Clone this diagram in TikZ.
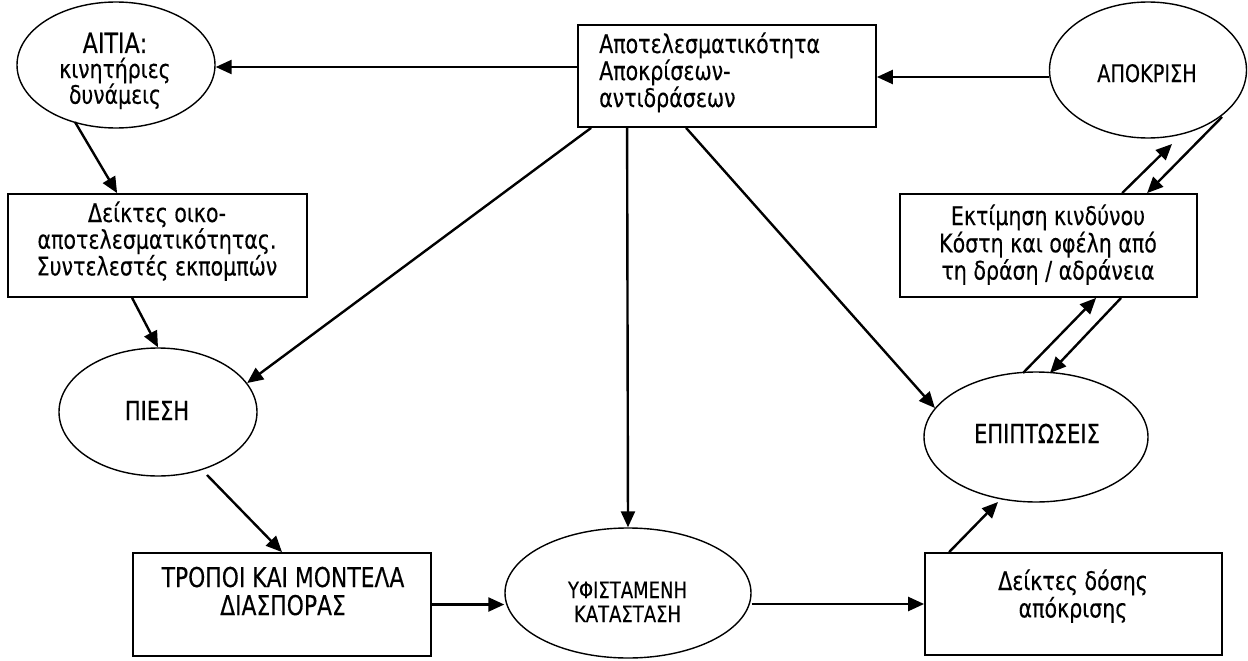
\documentclass[tikz,border=0pt]{standalone}
\usepackage{fontspec}
\setmainfont[FakeStretch=0.8,FakeBold=0.3]{DejaVu Sans}
\usetikzlibrary{arrows.meta,shapes.geometric,calc}
\newcommand{\mlines}[2]{\begin{tabular}[t]{@{}#1@{}}#2\end{tabular}}
\begin{document}
\begin{tikzpicture}[x=1pt,y=-1pt,
  boxnode/.style={draw, rectangle, line width=1.8pt, inner sep=0pt},
  ellnode/.style={draw, ellipse, line width=1.4pt, inner sep=0pt},
  txt/.style={anchor=base, inner sep=0pt},
  conn/.style={line width=2.4pt, -{Triangle[length=16pt,width=14pt]}}]
\useasboundingbox (0,0) rectangle (1248,661);

% shapes
\node[boxnode, minimum width=298pt, minimum height=102pt] (top) at (727,76) {};
\node[ellnode, minimum width=198pt, minimum height=126pt] (aitia) at (116,65) {};
\node[ellnode, minimum width=197pt, minimum height=136pt] (apok) at (1148,70) {};
\node[boxnode, minimum width=299pt, minimum height=103pt] (oiko) at (157.5,245.5) {};
\node[boxnode, minimum width=297pt, minimum height=103pt] (ektim) at (1048.5,245.5) {};
\node[ellnode, minimum width=198pt, minimum height=128pt] (piesi) at (158,412) {};
\node[ellnode, minimum width=224pt, minimum height=130pt] (epipt) at (1036,437) {};
\node[boxnode, minimum width=298pt, minimum height=103pt] (tropoi) at (282,604.5) {};
\node[ellnode, minimum width=246pt, minimum height=130pt] (yfist) at (628,593) {};
\node[boxnode, minimum width=297pt, minimum height=102pt] (doses) at (1073.5,604) {};

% texts
\node[txt, anchor=base west, font=\fontsize{25.7}{21.5}\selectfont] (toptxt) at (599,53)
  {\mlines{l}{Αποτελεσματικότητα\\Αποκρίσεων-\\αντιδράσεων}};
\node[txt, font=\fontsize{27.8}{27}\selectfont] (aitiatxt) at (115,53) {ΑΙΤΙΑ:};
\node[txt, font=\fontsize{25.5}{17}\selectfont] (aitiatxt2) at (115,78)
  {\mlines{c}{κινητήριες\\δυνάμεις}};
\node[txt, font=\fontsize{24.1}{24}\selectfont] (apoktxt) at (1147,82) {ΑΠΟΚΡΙΣΗ};
\node[txt, font=\fontsize{25.7}{20.5}\selectfont] (oikotxt) at (157,222)
  {\mlines{c}{Δείκτες οικο-\\αποτελεσματικότητας.\\Συντελεστές εκπομπών}};
\node[txt, font=\fontsize{25.7}{22.5}\selectfont] (ektimtxt) at (1048,225)
  {\mlines{c}{Εκτίμηση κινδύνου\\Κόστη και οφέλη από\\τη δράση / αδράνεια}};
\node[txt, font=\fontsize{26.2}{26}\selectfont] (piesitxt) at (157,420) {ΠΙΕΣΗ};
\node[txt, font=\fontsize{26.2}{26}\selectfont] (epipttxt) at (1037,443) {ΕΠΙΠΤΩΣΕΙΣ};
\node[txt, font=\fontsize{27.3}{26}\selectfont] (tropoitxt) at (283,587)
  {\mlines{c}{ΤΡΟΠΟΙ ΚΑΙ ΜΟΝΤΕΛΑ\\ΔΙΑΣΠΟΡΑΣ}};
\node[txt, font=\fontsize{22.5}{24}\selectfont] (yfisttxt) at (627.5,598)
  {\mlines{c}{ΥΦΙΣΤΑΜΕΝΗ\\ΚΑΤΑΣΤΑΣΗ}};
\node[txt, font=\fontsize{25.7}{23}\selectfont] (dosestxt) at (1073,590)
  {\mlines{c}{Δείκτες δόσης\\απόκρισης}};

% connectors
\draw[conn] (top.west |- 0,67) -- (aitia.east |- 0,67);
\draw[conn] (apok.west |- 0,77) -- (top.east |- 0,77);
\draw[conn] ($(aitia.center)+(-41,57)$) -- ($(oiko.north west)+(110,0)$);
\draw[conn] ($(oiko.south west)+(125,0)$) -- (piesi.north);
\draw[conn] ($(top.south west)+(14,0)$) -- (piesi.18);
\draw[conn] ($(top.south west)+(50,0)$) -- (yfist.north);
\draw[conn] ($(top.south west)+(109,0)$) -- (epipt.164);
\draw[conn] ($(piesi.center)+(49,63)$) -- (tropoi.north);
\draw[conn] (tropoi.east) -- (tropoi.east -| yfist.west);
\draw[conn] (yfist.east |- doses.west) -- (doses.west);
\draw[conn] ($(doses.north west)+(25,0)$) -- ($(epipt.center)+(-38,65)$);
\draw[conn] ($(epipt.center)+(-13,-64)$) -- ($(ektim.south west)+(197,0)$);
\draw[conn] ($(ektim.south west)+(222,0)$) -- ($(epipt.center)+(14,-64)$);
\draw[conn] ($(ektim.north west)+(223,0)$) -- ($(apok.center)+(24,74)$);
\draw[conn] ($(apok.center)+(74,47)$) -- ($(ektim.north west)+(248,0)$);
\end{tikzpicture}
\end{document}
